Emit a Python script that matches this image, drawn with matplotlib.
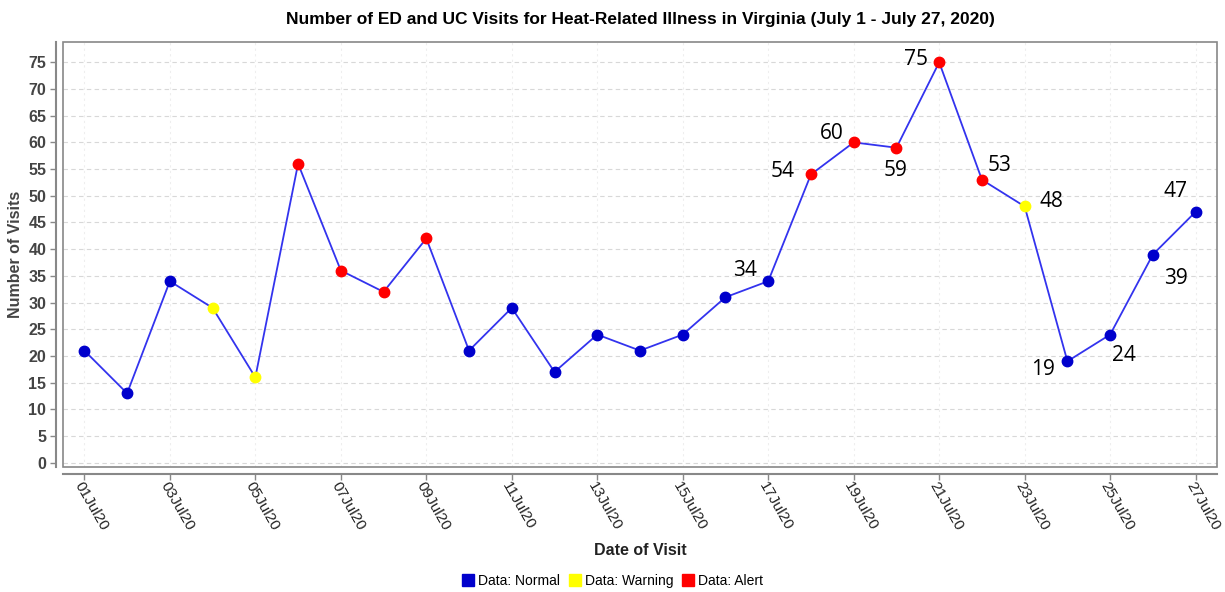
import matplotlib
matplotlib.use("Agg")
import matplotlib.pyplot as plt
from matplotlib.lines import Line2D
from matplotlib.patches import Rectangle

days = list(range(1, 28))
visits = [21, 13, 34, 29, 16, 56, 36, 32, 42, 21, 29, 17, 24, 21, 24, 31, 34,
          54, 60, 59, 75, 53, 48, 19, 24, 39, 47]
status = ["N", "N", "N", "W", "W", "A", "A", "A", "A", "N", "N", "N", "N", "N", "N", "N", "N",
          "A", "A", "A", "A", "A", "W", "N", "N", "N", "N"]
tick_days = list(range(1, 28, 2))
tick_labels = [f"{d:02d}Jul20" for d in tick_days]
y_ticks = list(range(0, 80, 5))
# annotated days and label offsets (pixels)
ann_days = [17, 18, 19, 20, 21, 22, 23, 24, 25, 26, 27]
ann_offsets = [(-23, 11), (-28, 3), (-22, 9), (-1, -23), (-23, 3), (18, 14), (27, 5),
               (-24, -8), (14, -21), (23, -24), (-20, 20)]

colors = {"N": "#0000cc", "W": "#ffff00", "A": "#ff0000"}
plt.rcParams["font.family"] = ["Liberation Sans", "DejaVu Sans"]

fig = plt.figure(figsize=(12.25, 5.92), dpi=100)
ax = fig.add_axes([63/1225, 1-467/592, (1217-63)/1225, (467-42)/592])

x = [d - 1 for d in days]
ax.plot(x, visits, color="#3333ee", lw=1.3, zorder=3)
for xi, v, s in zip(x, visits, status):
    ax.plot(xi, v, "o", ms=7.5, color=colors[s], mec=colors[s], zorder=4)

for d, (dx, dy) in zip(ann_days, ann_offsets):
    v = visits[d - 1]
    ax.annotate(str(v), (d - 1, v), xytext=(dx, dy), textcoords="offset pixels",
                ha="center", va="center", fontsize=15, family=["Open Sans", "DejaVu Sans"],
                color="black", zorder=5)

ax.set_xlim(-0.5, 26.5)
ax.set_ylim(-0.8, 78.8)

ax.grid(axis="y", color="#d8d8d8", ls=(0, (4, 3)), lw=0.8)
ax.grid(axis="x", color="#eeeeee", ls=(0, (2, 3)), lw=0.8)
ax.set_axisbelow(True)

for side in ["top", "right"]:
    ax.spines[side].set_visible(False)
for side in ["left", "bottom"]:
    ax.spines[side].set_position(("outward", 5))
    ax.spines[side].set_color("#888888")
    ax.spines[side].set_linewidth(1.5)
ax.add_patch(Rectangle((0, 0), 1, 1, transform=ax.transAxes, fill=False,
                       ec="#888888", lw=1.2, zorder=6, clip_on=False))
ax.tick_params(axis="both", colors="#888888", length=4, width=1)
ax.tick_params(axis="x", labelcolor="#222222", pad=0)
ax.tick_params(axis="y", labelcolor="#444444", pad=3)

ax.set_xticks([d - 1 for d in tick_days])
ax.set_xticklabels(tick_labels)
ax.set_yticks(y_ticks)
ax.set_yticklabels([str(t) for t in y_ticks])
for lab in ax.get_xticklabels():
    lab.set_rotation(-60)
    lab.set_rotation_mode("anchor")
    lab.set_ha("left")
    lab.set_va("top")
    lab.set_fontsize(11)
    lab.set_color("#222222")
for lab in ax.get_yticklabels():
    lab.set_fontsize(11.5)
    lab.set_fontweight("bold")
    lab.set_color("#444444")

ax.set_title("Number of ED and UC Visits for Heat-Related Illness in Virginia (July 1 - July 27, 2020)",
             fontsize=12.5, fontweight="bold", pad=13)
ax.set_ylabel("Number of Visits", fontsize=11.5, fontweight="bold", color="#444444", labelpad=4)
ax.set_xlabel("Date of Visit", fontsize=11.5, fontweight="bold", color="#222222", labelpad=7)

handles = [Line2D([], [], marker="s", ls="", ms=8, color=colors[k]) for k in ["N", "W", "A"]]
fig.legend(handles, ["Data: Normal", "Data: Warning", "Data: Alert"], loc="center",
           bbox_to_anchor=(612/1225, 1-581/592), ncol=3, frameon=False, fontsize=10,
           handletextpad=0.2, columnspacing=0.6, handlelength=1.0)

fig.savefig("out.png", dpi=100)
